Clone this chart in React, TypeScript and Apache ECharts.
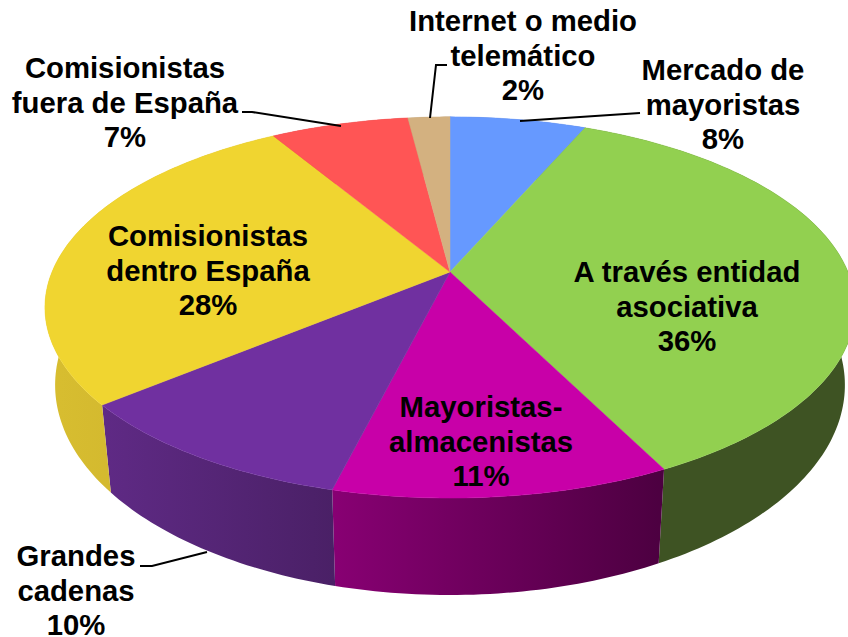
import React, { useEffect, useRef } from "react";
import * as echarts from "echarts";

const categories = [
  "Mercado de\nmayoristas",
  "A través entidad\nasociativa",
  "Mayoristas-\nalmacenistas",
  "Grandes\ncadenas",
  "Comisionistas\ndentro España",
  "Comisionistas\nfuera de España",
  "Internet o medio\ntelemático",
];
const printedPercents = [8, 36, 11, 10, 28, 7, 2];
// Slice sizes as measured from the wedges' angles in the picture.
const sliceShares = [6.5, 36.1, 11.3, 10.1, 27.4, 6.6, 2.0];
const topColors = ["#6699FF", "#92D050", "#C800A8", "#7030A0", "#F0D530", "#FF5555", "#D3B180"];
const sideLeft = ["#4D73C0", "#3E5323", "#880073", "#5F2A85", "#D8BE30", "#C04040", "#A08560"];
const sideRight = ["#4D73C0", "#3E5323", "#4C0040", "#4A2066", "#C9AE2C", "#C04040", "#A08560"];

const labelCenters = [
  [723, 70], [687, 272], [481, 407], [76, 556], [208, 236], [125, 68], [523, 21],
];
const leaderLines: (number[][] | null)[] = [
  [[520, 121], [610, 115], [640, 113]],
  null,
  null,
  [[140, 566], [152, 566], [207, 552]],
  null,
  [[242, 112], [252, 112], [341, 126]],
  [[447, 65], [436, 65], [430, 118]],
];

const CX = 450, CY = 272, A = 398, B = 184, P = 0.186;
const BASE_CY = 346, BASE_A = 388, BASE_B = 202.7;
const FONT_SIZE = 29.3, LINE_H = 34.2;

const total = sliceShares.reduce((a, b) => a + b, 0);
const project = (deg: number, cy: number, a: number, b: number) => {
  const t = (deg * Math.PI) / 180;
  const w = 1 + P * Math.cos(t);
  return [CX + (a * Math.sin(t)) / w, cy - (b * Math.cos(t)) / w];
};
const arcDegrees = (from: number, to: number) => {
  const n = Math.max(4, Math.ceil(to - from));
  const out: number[] = [];
  for (let i = 0; i <= n; i++) out.push(from + ((to - from) * i) / n);
  return out;
};
const sliceRange = (idx: number) => {
  let acc = 0;
  for (let i = 0; i < idx; i++) acc += sliceShares[i];
  return [(acc / total) * 360, ((acc + sliceShares[idx]) / total) * 360];
};

export default function App() {
  const ref = useRef<HTMLDivElement>(null);
  useEffect(() => {
    document.body.style.margin = "0";
    const chart = echarts.init(ref.current!, null, { renderer: "svg" });
    const data = sliceShares.map((v, i) => ({ value: [i, v], name: categories[i] }));
    const graphic: any[] = [];
    categories.forEach((name, i) => {
      const [x, y] = labelCenters[i];
      graphic.push({
        type: "text",
        x,
        y: y - LINE_H / 2,
        z: 10,
        style: {
          text: `${name}\n${printedPercents[i]}%`,
          fontFamily: "Liberation Sans",
          fontWeight: "bold",
          fontSize: FONT_SIZE,
          lineHeight: LINE_H,
          fill: "#000",
          align: "center",
          verticalAlign: "top",
        },
      });
      const line = leaderLines[i];
      if (line) {
        graphic.push({
          type: "polyline",
          z: 9,
          shape: { points: line },
          style: { stroke: "#000", lineWidth: 2, fill: "none" },
        });
      }
    });
    chart.setOption({
      animation: false,
      graphic,
      series: [
        {
          type: "custom",
          coordinateSystem: "none",
          silent: true,
          z: 2,
          data,
          renderItem: (_p: any, api: any) => {
            const idx = api.value(0);
            const [from, to] = sliceRange(idx);
            const degs = arcDegrees(from, to);
            const points = [
              ...degs.map((d) => project(d, CY, A, B)),
              ...degs.slice().reverse().map((d) => project(d, BASE_CY, BASE_A, BASE_B)),
            ];
            return {
              type: "polygon",
              shape: { points },
              style: {
                fill: new echarts.graphic.LinearGradient(0, 0, 1, 0, [
                  { offset: 0, color: sideLeft[idx] },
                  { offset: 1, color: sideRight[idx] },
                ]),
                stroke: null,
              },
            };
          },
        },
        {
          type: "custom",
          coordinateSystem: "none",
          silent: true,
          z: 3,
          data,
          renderItem: (_p: any, api: any) => {
            const idx = api.value(0);
            const [from, to] = sliceRange(idx);
            const points = [[CX, CY], ...arcDegrees(from, to).map((d) => project(d, CY, A, B))];
            return {
              type: "polygon",
              shape: { points },
              style: { fill: topColors[idx], stroke: topColors[idx], lineWidth: 0.5 },
            };
          },
        },
      ],
    });
    return () => chart.dispose();
  }, []);
  return <div ref={ref} style={{ width: 848, height: 637 }} />;
}
